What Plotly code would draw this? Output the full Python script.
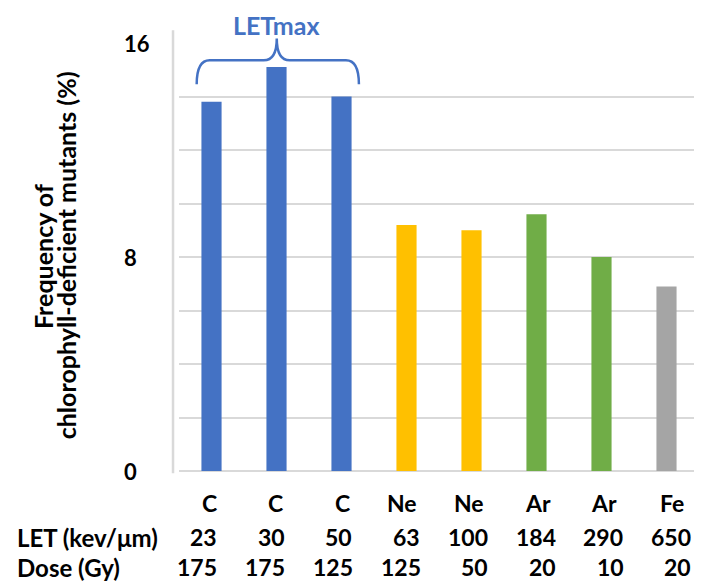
import plotly.graph_objects as go

# ---- data ----
ions = ["C", "C", "C", "Ne", "Ne", "Ar", "Ar", "Fe"]
let_values = ["23", "30", "50", "63", "100", "184", "290", "650"]
doses = ["175", "175", "125", "125", "50", "20", "10", "20"]
frequency = [13.8, 15.1, 14.0, 9.2, 9.0, 9.6, 8.0, 6.9]
ion_colors = {"C": "#4472C4", "Ne": "#FFC000", "Ar": "#70AD47", "Fe": "#A5A5A5"}
y_tick_values = [0, 8, 16]
y_title_lines = ["Frequency of", "chlorophyll-deficient mutants (%)"]
row_labels = ["LET (kev/\u03bcm)", "Dose (Gy)"]
bracket_label = "LETmax"

FONT = "Lato"
x_idx = list(range(len(ions)))

fig = go.Figure()
fig.add_trace(go.Bar(
    x=x_idx, y=frequency, width=0.31,
    marker=dict(color=[ion_colors[i] for i in ions], line=dict(width=0)),
    showlegend=False, hoverinfo="skip",
))

# page body has an 8px margin, so the figure is 8px smaller than the window
fig.update_layout(
    width=694, height=573,
    margin=dict(l=171, r=3, t=35, b=110),
    paper_bgcolor="white", plot_bgcolor="white",
    font=dict(family=FONT, color="black"),
    xaxis=dict(range=[-0.5, 7.5], showticklabels=False, showgrid=False,
               zeroline=False, showline=False, ticks=""),
    yaxis=dict(range=[0, 16], dtick=2, showticklabels=False, showgrid=True,
               gridcolor="#d9d9d9", gridwidth=1.5, zeroline=True,
               zerolinecolor="#d9d9d9", zerolinewidth=1.5, showline=False, ticks=""),
)

ann = []
# y tick labels (left aligned like the reference)
for v in y_tick_values:
    ann.append(dict(x=-0.1096, xref="paper", y=v, yref="y", text=f"<b>{v}</b>",
                    showarrow=False, xanchor="left", yanchor="middle",
                    font=dict(size=22, family=FONT, color="black")))
# y axis title, two separately placed lines (tight line pitch)
for line, xp, yp in zip(y_title_lines, [-0.2615, -0.2173], [0.50, 0.504]):
    ann.append(dict(x=xp, xref="paper", y=yp, yref="paper", text=f"<b>{line}</b>",
                    textangle=-90, showarrow=False, xanchor="center", yanchor="middle",
                    font=dict(size=25, family=FONT, color="black")))
# table under the axis
rows = [(ions, -0.0755, 7.1, 1.8), (let_values, -0.155, 7.4, 2.76), (doses, -0.225, 7.8, 2.74)]
for vals, ypos, base, step in rows:
    for i, t in enumerate(vals):
        ann.append(dict(x=i, xref="x", y=ypos, yref="paper", text=f"<b>{t}</b>",
                        showarrow=False, xanchor="right", yanchor="middle",
                        xshift=base + step * i,
                        font=dict(size=23, family=FONT, color="black")))
for lbl, ypos in zip(row_labels, [-0.155, -0.225]):
    ann.append(dict(x=-0.3154, xref="paper", y=ypos, yref="paper", text=f"<b>{lbl}</b>",
                    showarrow=False, xanchor="left", yanchor="middle",
                    font=dict(size=24, family=FONT, color="black")))
# LETmax label
ann.append(dict(x=0.188, xref="paper", y=1.043, yref="paper", text=f"<b>{bracket_label}</b>",
                showarrow=False, xanchor="center", yanchor="middle",
                font=dict(size=25, family=FONT, color="#4472C4")))
fig.update_layout(annotations=ann)

# brace over the carbon bars (paper coords)
x0, xc, x1 = 0.034, 0.188, 0.346
yb, yt, ytop = 0.9034, 0.9596, 1.0106
r = 0.025
path = (f"M {x0},{yb} Q {x0},{yt} {x0+r},{yt} L {xc-r},{yt} Q {xc},{yt} {xc},{ytop} "
        f"Q {xc},{yt} {xc+r},{yt} L {x1-r},{yt} Q {x1},{yt} {x1},{yb}")
fig.add_shape(type="path", path=path, xref="paper", yref="paper",
              line=dict(color="#4472C4", width=2.5))
# y axis line (slightly left of the grid, as in the reference)
fig.add_shape(type="line", xref="paper", yref="paper", x0=-0.0115, x1=-0.0115,
              y0=-0.005, y1=1.03, line=dict(color="#d9d9d9", width=2.5))

fig.write_html("out.html")
